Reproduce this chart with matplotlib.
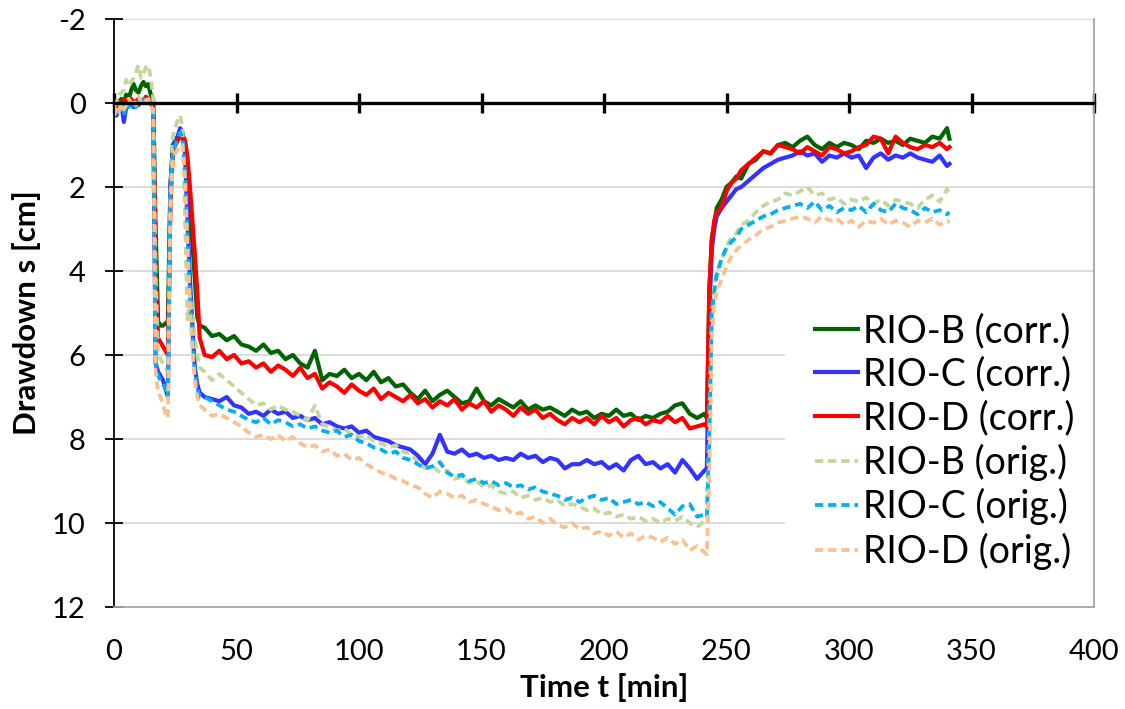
import matplotlib

matplotlib.use("Agg")

import matplotlib.pyplot as plt

plt.rcParams["font.family"] = ["Lato", "DejaVu Sans"]
plt.rcParams["axes.unicode_minus"] = False

# sample times [min]: 1-min steps in the start phase, 3-min steps afterwards
time_min = [
    0, 1, 2, 3, 4, 5, 6, 7, 8, 9, 10, 11, 12, 13, 14, 15, 16, 17,
    18, 19, 20, 21, 22, 23, 24, 25, 26, 27, 28, 29, 30, 31, 32, 33, 34, 35,
    37, 40, 43, 46, 49, 52, 55, 58, 61, 64, 67, 70, 73, 76, 79, 82, 85, 88,
    91, 94, 97, 100, 103, 106, 109, 112, 115, 118, 121, 124, 127, 130, 133, 136,
    139, 142, 145, 148, 151, 154, 157, 160, 163, 166, 169, 172, 175, 178, 181, 184,
    187, 190, 193, 196, 199, 202, 205, 208, 211, 214, 217, 220, 223, 226, 229, 232,
    235, 238, 241,
    242, 243, 244, 245, 246, 248, 250, 252, 254, 256, 259, 262, 265, 268, 271, 274,
    277, 280, 283, 286, 289, 292, 295, 298, 301, 304, 307, 310, 313, 316, 319, 322,
    325, 328, 331, 334, 337, 340, 341,
]

# drawdown s [cm]
rio_b_corr = [
    0.2, 0.1, 0.0, -0.1, 0.0, -0.2, -0.1, -0.3, -0.45, -0.3, -0.25, -0.4, -0.5, -0.4, -0.45, -0.2, -0.1, 3.0,
    5.2, 5.3, 5.3, 5.25, 5.2, 2.0, 1.0, 0.9, 0.8, 0.7, 0.8, 1.0, 2.0, 2.6, 3.3, 4.2, 5.1, 5.3,
    5.35, 5.55, 5.5, 5.65, 5.55, 5.75, 5.8, 5.9, 5.75, 5.95, 5.9, 6.1, 6.0, 6.2, 6.3, 5.9, 6.6, 6.45,
    6.5, 6.35, 6.55, 6.45, 6.6, 6.4, 6.65, 6.55, 6.75, 6.7, 6.9, 7.05, 6.85, 7.1, 6.95, 6.85,
    7.0, 7.15, 7.1, 6.8, 7.1, 7.2, 7.05, 7.15, 7.25, 7.1, 7.3, 7.2, 7.3, 7.25, 7.35, 7.45,
    7.3, 7.4, 7.35, 7.5, 7.4, 7.45, 7.3, 7.45, 7.4, 7.55, 7.45, 7.5, 7.4, 7.35, 7.2, 7.15,
    7.4, 7.5, 7.4,
    7.5, 4.5, 3.2, 2.9, 2.5, 2.3, 2.0, 1.9, 1.75, 1.8, 1.45, 1.35, 1.15, 1.2, 1.0, 0.95,
    1.05, 0.9, 0.8, 1.0, 1.1, 0.95, 1.05, 0.95, 1.0, 1.1, 0.9, 0.95, 0.85, 0.95, 0.9, 1.0,
    0.85, 0.9, 0.95, 0.8, 0.85, 0.6, 0.85,
]

rio_c_corr = [
    0.2, 0.3, 0.1, 0.0, 0.45, 0.1, 0.05, 0.0, 0.1, 0.0, 0.05, -0.05, 0.0, -0.1, 0.0, -0.05, 0.2, 6.2,
    6.4, 6.5, 6.6, 6.8, 7.0, 2.0, 1.1, 0.9, 0.8, 0.6, 0.7, 1.2, 2.8, 4.2, 5.3, 6.3, 6.7, 6.9,
    7.0, 7.05, 7.1, 7.0, 7.2, 7.25, 7.4, 7.35, 7.45, 7.3, 7.4, 7.35, 7.5, 7.45, 7.55, 7.5, 7.65, 7.6,
    7.7, 7.75, 7.7, 7.85, 7.8, 7.95, 8.0, 8.05, 8.15, 8.2, 8.25, 8.4, 8.6, 8.35, 7.9, 8.3,
    8.35, 8.25, 8.4, 8.35, 8.45, 8.4, 8.5, 8.45, 8.5, 8.35, 8.45, 8.4, 8.55, 8.45, 8.5, 8.7,
    8.6, 8.6, 8.5, 8.6, 8.55, 8.7, 8.6, 8.75, 8.5, 8.4, 8.6, 8.55, 8.7, 8.6, 8.8, 8.5,
    8.7, 8.95, 8.75,
    8.7, 5.0, 3.5, 3.0, 2.7, 2.5, 2.35, 2.2, 2.05, 2.0, 1.85, 1.7, 1.55, 1.45, 1.35, 1.3,
    1.25, 1.15, 1.25, 1.2, 1.4, 1.25, 1.3, 1.2, 1.3, 1.25, 1.55, 1.3, 1.2, 1.35, 1.25, 1.3,
    1.2, 1.3, 1.35, 1.4, 1.25, 1.5, 1.45,
]

rio_d_corr = [
    0.25, 0.1, -0.05, 0.1, 0.0, -0.1, 0.0, -0.1, 0.0, -0.05, -0.1, 0.0, -0.05, -0.15, -0.1, 0.0, 0.1, 4.0,
    5.6, 5.7, 5.8, 5.9, 6.0, 2.5, 1.2, 1.0, 0.9, 0.8, 0.75, 0.9, 1.3, 2.0, 2.8, 3.6, 4.5, 5.6,
    6.0, 6.05, 5.9, 6.1, 6.0, 6.2, 6.15, 6.3, 6.2, 6.4, 6.25, 6.35, 6.5, 6.3, 6.55, 6.45, 6.8, 6.65,
    6.75, 6.9, 6.7, 6.85, 6.95, 6.8, 7.05, 6.9, 7.0, 7.1, 6.95, 7.15, 7.05, 7.25, 7.1, 7.2,
    7.05, 7.3, 7.15, 7.25, 7.1, 7.35, 7.2, 7.3, 7.45, 7.25, 7.4, 7.3, 7.5, 7.4, 7.55, 7.65,
    7.5, 7.6, 7.5, 7.65, 7.45, 7.6, 7.5, 7.7, 7.55, 7.5, 7.65, 7.55, 7.6, 7.45, 7.6, 7.5,
    7.75, 7.7, 7.65,
    7.7, 4.4, 3.3, 2.8, 2.6, 2.5, 2.1, 1.9, 1.8, 1.6, 1.45, 1.3, 1.15, 1.2, 1.0, 1.05,
    1.1, 1.2, 1.05, 1.15, 1.25, 1.05, 1.1, 1.2, 1.15, 1.05, 1.0, 0.8, 0.85, 1.2, 0.8, 0.95,
    1.05, 1.1, 1.0, 1.05, 0.95, 1.1, 1.05,
]

rio_b_orig = [
    0.1, 0.0, -0.2, -0.25, -0.3, -0.55, -0.4, -0.5, -0.6, -0.75, -0.9, -0.6, -0.7, -0.85, -0.9, -0.6, -0.1, 4.0,
    6.0, 6.1, 6.2, 6.3, 6.4, 2.2, 0.8, 0.6, 0.4, 0.3, 0.6, 2.8, 5.2, 4.6, 5.0, 5.6, 6.0, 6.3,
    6.4, 6.6, 6.45, 6.6, 6.75, 6.9, 7.05, 7.2, 7.15, 7.3, 7.2, 7.3, 7.35, 7.45, 7.55, 7.2, 7.65, 7.7,
    7.8, 7.75, 7.9, 7.95, 7.9, 8.05, 8.1, 8.2, 8.15, 8.3, 8.35, 8.55, 8.7, 8.65, 8.8, 8.75,
    8.95, 8.9, 9.05, 9.0, 9.15, 9.1, 9.25, 9.3, 9.25, 9.4, 9.35, 9.45, 9.4, 9.5, 9.45, 9.6,
    9.55, 9.6, 9.7, 9.65, 9.8, 9.75, 9.85, 9.8, 9.9, 9.85, 9.95, 9.9, 10.0, 9.9, 9.95, 9.85,
    10.0, 10.1, 9.95,
    9.9, 7.5, 5.0, 4.4, 4.0, 3.75, 3.4, 3.2, 3.1, 2.9, 2.8, 2.6, 2.45, 2.35, 2.3, 2.15,
    2.2, 2.1, 2.0, 2.2, 2.15, 2.3, 2.25, 2.4, 2.3, 2.35, 2.25, 2.4, 2.3, 2.45, 2.3, 2.35,
    2.4, 2.5, 2.3, 2.2, 2.35, 2.05, 2.2,
]

rio_c_orig = [
    0.15, 0.25, 0.05, 0.1, 0.3, 0.0, 0.1, -0.05, 0.05, 0.1, -0.05, 0.0, -0.1, 0.0, -0.05, 0.0, 0.2, 6.2,
    6.5, 6.6, 6.7, 6.8, 7.0, 2.2, 1.2, 1.0, 0.85, 0.7, 0.8, 1.6, 3.2, 4.6, 5.6, 6.4, 6.8, 7.0,
    7.0, 7.1, 7.2, 7.3, 7.35, 7.45, 7.55, 7.6, 7.5, 7.65, 7.55, 7.6, 7.7, 7.65, 7.75, 7.7, 7.8, 7.85,
    7.8, 7.95, 7.9, 8.05, 8.1, 8.2, 8.25, 8.35, 8.3, 8.45, 8.5, 8.6, 8.7, 8.65, 8.55, 8.8,
    8.9, 8.85, 9.0, 8.95, 9.05, 9.0, 9.1, 9.05, 9.15, 9.1, 9.2, 9.15, 9.25, 9.3, 9.35, 9.45,
    9.4, 9.5, 9.4, 9.35, 9.45, 9.4, 9.55, 9.5, 9.45, 9.55, 9.5, 9.6, 9.5, 9.65, 9.8, 9.6,
    9.55, 9.85, 9.8,
    9.85, 8.0, 5.0, 4.5, 4.1, 3.7, 3.45, 3.3, 3.2, 3.0, 2.9, 2.8, 2.7, 2.65, 2.55, 2.5,
    2.45, 2.4, 2.5, 2.35, 2.55, 2.45, 2.6, 2.5, 2.55, 2.45, 2.6, 2.4, 2.55, 2.6, 2.4, 2.5,
    2.55, 2.65, 2.5, 2.6, 2.55, 2.65, 2.6,
]

rio_d_orig = [
    0.3, 0.1, 0.2, 0.0, 0.15, 0.05, -0.1, 0.0, -0.1, 0.05, -0.15, 0.0, -0.1, -0.05, -0.1, 0.05, 0.2, 6.4,
    6.9, 7.0, 7.2, 7.4, 7.5, 2.6, 1.4, 1.2, 1.1, 1.0, 1.0, 1.8, 3.4, 4.8, 5.9, 6.6, 7.0, 7.2,
    7.3, 7.45, 7.4, 7.5, 7.6, 7.7, 7.85, 7.95, 7.9, 8.0, 7.9, 8.05, 7.95, 8.1, 8.2, 8.15, 8.3, 8.25,
    8.4, 8.35, 8.5, 8.45, 8.6, 8.7, 8.8, 8.85, 8.95, 9.0, 9.1, 9.15, 9.3, 9.4, 9.25, 9.3,
    9.4, 9.35, 9.5, 9.45, 9.55, 9.6, 9.7, 9.65, 9.8, 9.75, 9.9, 9.85, 10.0, 9.9, 10.05, 10.1,
    10.0, 10.15, 10.1, 10.25, 10.2, 10.3, 10.2, 10.35, 10.25, 10.4, 10.3, 10.35, 10.45, 10.35, 10.5, 10.4,
    10.65, 10.55, 10.7,
    10.75, 8.8, 5.6, 4.8, 4.5, 4.2, 3.9, 3.65, 3.5, 3.4, 3.25, 3.15, 3.0, 2.95, 2.85, 2.8,
    2.75, 2.7, 2.75, 2.85, 2.7, 2.8, 2.75, 2.9, 2.8, 2.95, 2.8, 2.85, 2.75, 2.9, 2.8, 2.85,
    2.95, 2.8, 2.85, 2.75, 2.9, 2.8, 2.85,
]

x_ticks = [0, 50, 100, 150, 200, 250, 300, 350, 400]
y_ticks = [-2, 0, 2, 4, 6, 8, 10, 12]

SOLID = "-"
DASHED = (0, (2.2, 1.3))

series = [
    ("RIO-B (corr.)", rio_b_corr, "#006400", SOLID, 3.0),
    ("RIO-C (corr.)", rio_c_corr, "#3333ff", SOLID, 3.0),
    ("RIO-D (corr.)", rio_d_corr, "#ff0000", SOLID, 3.0),
    ("RIO-B (orig.)", rio_b_orig, "#c3d69b", DASHED, 2.7),
    ("RIO-C (orig.)", rio_c_orig, "#00b0f0", DASHED, 2.7),
    ("RIO-D (orig.)", rio_d_orig, "#fac090", DASHED, 2.7),
]

for _, values, *_rest in series:
    assert len(values) == len(time_min)

fig = plt.figure(figsize=(11.25, 7.09), dpi=100)
ax = fig.add_axes([114 / 1125, 1 - 607 / 709, 980 / 1125, 588 / 709])

for label, values, color, style, lw in series:
    ax.plot(time_min, values, color=color, linestyle=style, linewidth=lw,
            label=label, solid_joinstyle="round")

ax.set_xlim(0, 400)
ax.set_ylim(12, -2)
ax.set_xticks(x_ticks)
ax.set_yticks(y_ticks)
ax.grid(axis="y", color="#d9d9d9", linewidth=1.3)
ax.set_axisbelow(True)

# zero line with tick marks (Excel style axis crossing at s = 0)
ax.spines["top"].set_position(("data", 0))
ax.spines["top"].set_color("black")
ax.spines["top"].set_linewidth(2.4)
ax.spines["left"].set_color("black")
ax.spines["left"].set_linewidth(1.3)
for side in ("bottom", "right"):
    ax.spines[side].set_color("#a6a6a6")
    ax.spines[side].set_linewidth(1.3)

ax.tick_params(axis="x", bottom=False, top=True, labelbottom=True, labeltop=False,
               direction="inout", length=14, width=2.4, color="black",
               labelsize=21, pad=16)
ax.tick_params(axis="y", direction="inout", length=13, width=1.3, color="black",
               labelsize=21, pad=14)

ax.set_xlabel("Time t [min]", fontsize=22.5, fontweight="bold", labelpad=6)
ax.set_ylabel("Drawdown s [cm]", fontsize=22.5, fontweight="bold", labelpad=8)

leg = ax.legend(loc="upper left", bbox_to_anchor=(0.685, 0.551), borderaxespad=0,
                frameon=True, fancybox=False, framealpha=1, edgecolor="none",
                facecolor="white", fontsize=27, handlelength=1.15,
                handletextpad=0.12, labelspacing=0.2, borderpad=0.8)
# keep the plot-area border on top of the white legend box
leg.set_zorder(2.4)

fig.savefig("out.png", dpi=100)
plt.close(fig)
